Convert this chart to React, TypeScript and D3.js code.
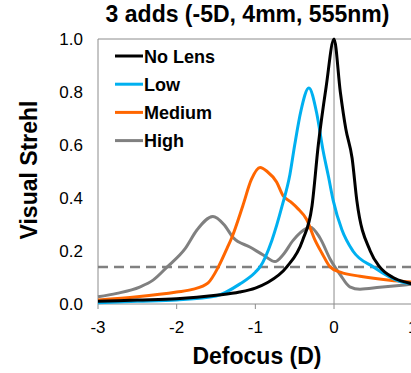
import React, { useEffect, useRef } from 'react';
import * as d3 from 'd3';

// values
const title = '3 adds (-5D, 4mm, 555nm)';
const xTicks = [-3, -2, -1, 0, 1];
const yTicks = [0, 0.2, 0.4, 0.6, 0.8, 1.0];
const threshold = 0.14;

const noLens: [number, number][] = [
  [-3, 0.01], [-2.5, 0.015], [-2, 0.02], [-1.5, 0.033], [-1.2, 0.045], [-1, 0.06],
  [-0.85, 0.08], [-0.6, 0.14], [-0.4, 0.24], [-0.28, 0.37], [-0.2, 0.6], [-0.1, 0.82],
  [0, 1.0], [0.08, 0.8], [0.15, 0.66], [0.23, 0.55], [0.29, 0.39], [0.46, 0.2],
  [0.58, 0.14], [0.75, 0.1], [0.94, 0.08], [1, 0.075],
];
const low: [number, number][] = [
  [-3, 0.005], [-2.5, 0.01], [-2, 0.015], [-1.5, 0.03], [-1.2, 0.075], [-1, 0.12],
  [-0.94, 0.14], [-0.79, 0.24], [-0.66, 0.37], [-0.56, 0.49], [-0.5, 0.6], [-0.42, 0.73],
  [-0.32, 0.815], [-0.22, 0.72], [-0.14, 0.58], [-0.07, 0.48], [-0.01, 0.39], [0.1, 0.28],
  [0.24, 0.2], [0.5, 0.14], [0.84, 0.085], [1, 0.075],
];
const medium: [number, number][] = [
  [-3, 0.015], [-2.5, 0.027], [-2, 0.045], [-1.8, 0.055], [-1.6, 0.08], [-1.47, 0.14],
  [-1.36, 0.21], [-1.3, 0.25], [-1.16, 0.37], [-1.05, 0.47], [-0.94, 0.515], [-0.85, 0.5],
  [-0.73, 0.46], [-0.65, 0.41], [-0.55, 0.385], [-0.46, 0.36], [-0.35, 0.32], [-0.24, 0.24],
  [-0.15, 0.19], [-0.05, 0.14], [0.08, 0.12], [0.33, 0.105], [0.71, 0.09], [1, 0.083],
];
const high: [number, number][] = [
  [-3, 0.027], [-2.76, 0.04], [-2.47, 0.064], [-2.3, 0.09], [-2.12, 0.14], [-1.89, 0.21],
  [-1.74, 0.28], [-1.54, 0.33], [-1.4, 0.3], [-1.28, 0.25], [-1.07, 0.215], [-0.9, 0.185],
  [-0.75, 0.16], [-0.65, 0.185], [-0.52, 0.24], [-0.35, 0.285], [-0.3, 0.29], [-0.18, 0.25],
  [-0.05, 0.17], [0.08, 0.11], [0.2, 0.065], [0.33, 0.056], [0.58, 0.063], [1, 0.075],
];

const seriesNames = ['No Lens', 'Low', 'Medium', 'High'];
const seriesColors = ['#000000', '#00b0f0', '#ff6600', '#808080'];
const seriesData = [noLens, low, medium, high];

const W = 411;
const H = 373;
const FONT = 'Arial, "Liberation Sans", sans-serif';

export default function App() {
  const svgRef = useRef<SVGSVGElement>(null);

  useEffect(() => {
    const svg = d3.select(svgRef.current);
    svg.selectAll('*').remove();

    const x = d3.scaleLinear().domain([-3, 1]).range([98, 412.7]);
    const y = d3.scaleLinear().domain([0, 1]).range([304, 39]);
    const axisColor = '#8c8c8c';

    // plot box: top and left border, x-axis, x=0 line
    svg.append('line').attr('x1', x(-3)).attr('x2', W).attr('y1', y(1)).attr('y2', y(1))
      .attr('stroke', axisColor).attr('stroke-width', 1);
    svg.append('line').attr('x1', x(-3)).attr('x2', x(-3)).attr('y1', y(1)).attr('y2', y(0))
      .attr('stroke', axisColor).attr('stroke-width', 1);
    svg.append('line').attr('x1', x(0)).attr('x2', x(0)).attr('y1', y(1)).attr('y2', y(0))
      .attr('stroke', axisColor).attr('stroke-width', 1);
    svg.append('line').attr('x1', x(-3)).attr('x2', W).attr('y1', y(0)).attr('y2', y(0))
      .attr('stroke', axisColor).attr('stroke-width', 1);

    // x tick marks + labels
    svg.selectAll('.xtick').data(xTicks).enter().append('line')
      .attr('x1', d => x(d)).attr('x2', d => x(d))
      .attr('y1', y(0)).attr('y2', y(0) + 5)
      .attr('stroke', axisColor);
    svg.selectAll('.xlab').data(xTicks).enter().append('text')
      .attr('x', d => x(d)).attr('y', 333)
      .attr('text-anchor', 'middle')
      .style('font', `17px ${FONT}`).attr('fill', '#000')
      .text(d => String(d));

    // y labels
    svg.selectAll('.ylab').data(yTicks).enter().append('text')
      .attr('x', 83).attr('y', d => y(d) + 6)
      .attr('text-anchor', 'end')
      .style('font', `17px ${FONT}`).attr('fill', '#000')
      .text(d => d3.format('.1f')(d));

    // threshold dashed line
    svg.append('line')
      .attr('x1', x(-3)).attr('x2', W)
      .attr('y1', y(threshold)).attr('y2', y(threshold))
      .attr('stroke', '#808080').attr('stroke-width', 2.5)
      .attr('stroke-dasharray', '10,6');

    const line = d3.line<[number, number]>()
      .x(d => x(d[0]))
      .y(d => y(d[1]))
      .curve(d3.curveMonotoneX);

    // draw back to front: high, medium, low, no lens
    [3, 2, 1, 0].forEach(i => {
      svg.append('path')
        .datum(seriesData[i])
        .attr('fill', 'none')
        .attr('stroke', seriesColors[i])
        .attr('stroke-width', 3)
        .attr('stroke-linejoin', 'round')
        .attr('d', line);
    });

    // legend
    const legend = svg.append('g');
    seriesNames.forEach((name, i) => {
      const ly = 56 + i * 28.2;
      legend.append('line')
        .attr('x1', 115).attr('x2', 143).attr('y1', ly).attr('y2', ly)
        .attr('stroke', seriesColors[i]).attr('stroke-width', 3);
      legend.append('text')
        .attr('x', 144).attr('y', ly + 6.5)
        .style('font', `bold 18px ${FONT}`).attr('fill', '#000')
        .text(name);
    });

    // titles
    svg.append('text')
      .attr('x', 247.5).attr('y', 22)
      .attr('text-anchor', 'middle')
      .style('font', `bold 23px ${FONT}`)
      .text(title);
    svg.append('text')
      .attr('transform', 'translate(37,170) rotate(-90)')
      .attr('text-anchor', 'middle')
      .style('font', `bold 23px ${FONT}`)
      .text('Visual Strehl');
    svg.append('text')
      .attr('x', 257).attr('y', 364)
      .attr('text-anchor', 'middle')
      .style('font', `bold 23px ${FONT}`)
      .text('Defocus (D)');
  }, []);

  return (
    <div style={{ position: 'absolute', left: 0, top: 0, width: W, height: H, background: '#fff' }}>
      <svg ref={svgRef} width={W} height={H} style={{ display: 'block' }} />
    </div>
  );
}
